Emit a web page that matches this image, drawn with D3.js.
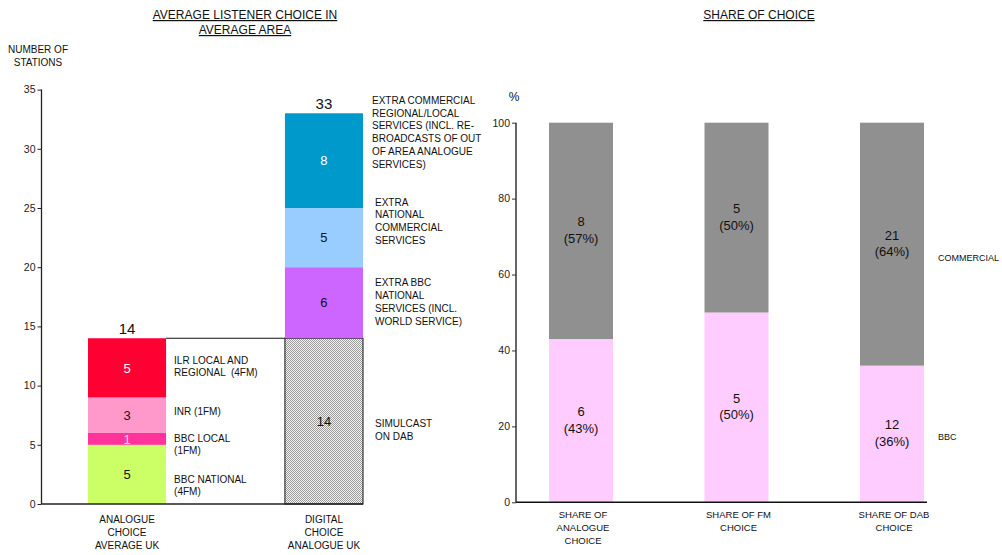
<!DOCTYPE html>
<html><head><meta charset="utf-8">
<script src="https://cdn.jsdelivr.net/npm/d3@7"></script>
<style>
body{margin:0;background:#fff;}
svg{display:block;font-family:"Liberation Sans",Arial,sans-serif;}
text{white-space:pre;}
</style></head>
<body>
<svg id="c" width="1002" height="555"></svg>
<script>
// ---------- DATA ----------
const leftCategories = ["ANALOGUE CHOICE AVERAGE UK", "DIGITAL CHOICE ANALOGUE UK"];
const leftCategoryLines = [["ANALOGUE","CHOICE","AVERAGE UK"],["DIGITAL","CHOICE","ANALOGUE UK"]];
const analogueNames = ["BBC NATIONAL (4FM)", "BBC LOCAL (1FM)", "INR (1FM)", "ILR LOCAL AND REGIONAL (4FM)"];
const analogueValues = [5, 1, 3, 5];
const analogueTotal = 14;
const digitalNames = ["SIMULCAST ON DAB", "EXTRA BBC NATIONAL SERVICES", "EXTRA NATIONAL COMMERCIAL SERVICES", "EXTRA COMMERCIAL REGIONAL/LOCAL SERVICES"];
const digitalValues = [14, 6, 5, 8];
const digitalTotal = 33;
const leftTicks = [0, 5, 10, 15, 20, 25, 30, 35];

const rightCategories = ["SHARE OF ANALOGUE CHOICE", "SHARE OF FM CHOICE", "SHARE OF DAB CHOICE"];
const rightCategoryLines = [["SHARE OF","ANALOGUE","CHOICE"],["SHARE OF FM","CHOICE"],["SHARE OF DAB","CHOICE"]];
const bbcCounts = [6, 5, 12];
const bbcPercent = [43, 50, 36];
const commercialCounts = [8, 5, 21];
const commercialPercent = [57, 50, 64];
const rightTicks = [0, 20, 40, 60, 80, 100];

// ---------- STYLES / LAYOUT ----------
const analogueColors = ["#CCFF66", "#FF3399", "#FF99CC", "#FF0033"];
const analogueTextColors = ["#111", "#ffd6ea", "#111", "#fff"];
const digitalColors = ["url(#hatch)", "#CC66FF", "#99CCFF", "#0099CC"];
const digitalTextColors = ["#111", "#111", "#111", "#fff"];
const bbcColor = "#FFCCFF", commercialColor = "#909090";

const analogueAnnot = [
  {lines:["BBC NATIONAL","(4FM)"], at:1.56},
  {lines:["BBC LOCAL","(1FM)"], at:5.03},
  {lines:["INR (1FM)"], at:7.78},
  {lines:["ILR LOCAL AND","REGIONAL  (4FM)"], at:11.62}
];
const digitalAnnot = [
  {lines:["SIMULCAST","ON DAB"], at:6.28, dx:3},
  {lines:["EXTRA BBC","NATIONAL","SERVICES (INCL.","WORLD SERVICE)"], at:17.07, dx:3},
  {lines:["EXTRA","NATIONAL","COMMERCIAL","SERVICES"], at:23.9, dx:3},
  {lines:["EXTRA COMMERCIAL","REGIONAL/LOCAL","SERVICES (INCL. RE-","BROADCASTS OF OUT","OF AREA ANALOGUE","SERVICES)"], at:31.4, dx:0}
];

const svg = d3.select("#c");
const defs = svg.append("defs");
const pat = defs.append("pattern").attr("id","hatch").attr("patternUnits","userSpaceOnUse")
  .attr("width",2).attr("height",2);
pat.append("rect").attr("width",2).attr("height",2).attr("fill","#f2f2f2").attr("shape-rendering","crispEdges");
pat.append("rect").attr("x",0).attr("y",0).attr("width",1).attr("height",1).attr("fill","#9c9c9c").attr("shape-rendering","crispEdges");
pat.append("rect").attr("x",1).attr("y",1).attr("width",1).attr("height",1).attr("fill","#9c9c9c").attr("shape-rendering","crispEdges");

// ---------- LEFT CHART ----------
const yL = d3.scaleLinear().domain([0,35]).range([504, 89.6]);
const xL = d3.scaleBand().domain(leftCategories).range([88, 363]).paddingInner(0.6035).paddingOuter(0);
const axisX = 41.5;

svg.append("text").attr("x",245).attr("y",19).attr("text-anchor","middle")
  .style("font-size","12px").style("text-decoration","underline").attr("fill","#111")
  .text("AVERAGE LISTENER CHOICE IN");
svg.append("text").attr("x",245).attr("y",34).attr("text-anchor","middle")
  .style("font-size","12px").style("text-decoration","underline").attr("fill","#111")
  .text("AVERAGE AREA");
svg.append("text").attr("x",38).attr("y",53).attr("text-anchor","middle").style("font-size","10px").attr("fill","#111").text("NUMBER OF");
svg.append("text").attr("x",38).attr("y",66).attr("text-anchor","middle").style("font-size","10px").attr("fill","#111").text("STATIONS");

const gL = svg.append("g").attr("transform",`translate(${axisX},0)`)
  .call(d3.axisLeft(yL).tickValues(leftTicks).tickSize(4).tickPadding(2).tickFormat(d3.format("d")));
gL.select(".domain").attr("d",`M0,${yL(35)}V${yL(0)}`).attr("stroke","#222").attr("stroke-width",1.3);
gL.selectAll(".tick line").attr("stroke","#222");
gL.selectAll(".tick text").style("font-size","10.5px").style("font-family","Liberation Sans, Arial, sans-serif").attr("fill","#222");

function stack(vals){ let c=0; return vals.map(v=>{const s={y0:c,y1:c+v,v}; c+=v; return s;}); }
const aStack = stack(analogueValues), dStack = stack(digitalValues);

// white box between bars (top line)
svg.append("line").attr("x1",xL(leftCategories[0])+xL.bandwidth()).attr("x2",xL(leftCategories[1]))
  .attr("y1",yL(analogueTotal)).attr("y2",yL(analogueTotal)).attr("stroke","#111").attr("stroke-width",1.2);

function drawStack(cat, st, colors, tcolors){
  const x0 = xL(cat), w = xL.bandwidth();
  const g = svg.append("g");
  g.selectAll("rect").data(st).join("rect")
    .attr("x",x0).attr("width",w)
    .attr("y",d=>yL(d.y1)).attr("height",d=>yL(d.y0)-yL(d.y1))
    .attr("fill",(d,i)=>colors[i])
    .attr("stroke",(d,i)=>colors[i].startsWith("url")?"#111":"none").attr("stroke-width",1);
  g.selectAll("text").data(st).join("text")
    .attr("x",x0+w/2).attr("y",d=>yL((d.y0+d.y1)/2)).attr("dy","0.36em")
    .attr("text-anchor","middle").style("font-size","13px")
    .attr("fill",(d,i)=>tcolors[i]).text(d=>d.v);
}
drawStack(leftCategories[0], aStack, analogueColors, analogueTextColors);
drawStack(leftCategories[1], dStack, digitalColors, digitalTextColors);

// totals
svg.append("text").attr("x",xL(leftCategories[0])+xL.bandwidth()/2).attr("y",yL(analogueTotal)-4)
  .attr("text-anchor","middle").style("font-size","15px").attr("fill","#111").text(analogueTotal);
svg.append("text").attr("x",xL(leftCategories[1])+xL.bandwidth()/2).attr("y",yL(digitalTotal)-4)
  .attr("text-anchor","middle").style("font-size","15px").attr("fill","#111").text(digitalTotal);

// baseline
svg.append("line").attr("x1",axisX).attr("x2",xL(leftCategories[1])+xL.bandwidth())
  .attr("y1",yL(0)).attr("y2",yL(0)).attr("stroke","#222").attr("stroke-width",1.5);

function annot(list, x){
  list.forEach(a=>{
    const n=a.lines.length, lh=12.7;
    const cy=yL(a.at);
    a.lines.forEach((t,i)=>{
      svg.append("text").attr("x",x+(a.dx||0)).attr("y",cy+(i-(n-1)/2)*lh).attr("dy","0.36em")
        .style("font-size","10px").attr("fill","#111").text(t);
    });
  });
}
annot(analogueAnnot, xL(leftCategories[0])+xL.bandwidth()+8);
annot(digitalAnnot, xL(leftCategories[1])+xL.bandwidth()+9);

leftCategoryLines.forEach((lines,k)=>{
  lines.forEach((t,i)=>{
    svg.append("text").attr("x",xL(leftCategories[k])+xL.bandwidth()/2).attr("y",519.5+i*12.8).attr("dy","0.36em")
      .attr("text-anchor","middle").style("font-size","10px").attr("fill","#111").text(t);
  });
});

// ---------- RIGHT CHART ----------
const yR = d3.scaleLinear().domain([0,100]).range([502.3,122.7]);
const xR = d3.scaleBand().domain(rightCategories).range([549,924]).paddingInner(0.5884).paddingOuter(0);
const axisR = 516;

svg.append("text").attr("x",759).attr("y",19).attr("text-anchor","middle")
  .style("font-size","12px").style("text-decoration","underline").attr("fill","#111").text("SHARE OF CHOICE");
svg.append("text").attr("x",514).attr("y",101).attr("text-anchor","middle").style("font-size","12px").attr("fill","#111").text("%");

const gR = svg.append("g").attr("transform",`translate(${axisR},0)`)
  .call(d3.axisLeft(yR).tickValues(rightTicks).tickSize(4).tickPadding(2).tickFormat(d3.format("d")));
gR.select(".domain").attr("d",`M0,${yR(100)}V${yR(0)}`).attr("stroke","#666").attr("stroke-width",2);
gR.selectAll(".tick line").attr("stroke","#333");
gR.selectAll(".tick text").style("font-size","10.5px").style("font-family","Liberation Sans, Arial, sans-serif").attr("fill","#222");

const rData = rightCategories.map((c,i)=>({c, bbc:bbcPercent[i], com:commercialPercent[i],
  bn:bbcCounts[i], cn:commercialCounts[i]}));
const gb = svg.append("g");
gb.selectAll("rect.bbc").data(rData).join("rect").attr("class","bbc")
  .attr("x",d=>xR(d.c)).attr("width",xR.bandwidth())
  .attr("y",d=>yR(d.bbc)).attr("height",d=>yR(0)-yR(d.bbc)).attr("fill",bbcColor);
gb.selectAll("rect.com").data(rData).join("rect").attr("class","com")
  .attr("x",d=>xR(d.c)).attr("width",xR.bandwidth())
  .attr("y",d=>yR(100)).attr("height",d=>yR(d.bbc)-yR(100)).attr("fill",commercialColor);

function twoLine(x, cy, a, b){
  svg.append("text").attr("x",x).attr("y",cy-6.5).attr("text-anchor","middle").style("font-size","13px").attr("fill","#111").text(a);
  svg.append("text").attr("x",x).attr("y",cy+10).attr("text-anchor","middle").style("font-size","13px").attr("fill","#111").text(b);
}
rData.forEach(d=>{
  const x = xR(d.c)+xR.bandwidth()/2;
  twoLine(x, yR((100+d.bbc)/2)+2, d.cn, `(${d.com}%)`);
  twoLine(x, yR(d.bbc/2)+2, d.bn, `(${d.bbc}%)`);
});

svg.append("line").attr("x1",axisR).attr("x2",927).attr("y1",yR(0)).attr("y2",yR(0)).attr("stroke","#111").attr("stroke-width",1.5);

// legend labels beside last bar
const lastCat = rightCategories[rightCategories.length-1];
const legX = xR(lastCat)+xR.bandwidth()+14;
svg.append("text").attr("x",legX).attr("y",yR(100-commercialPercent[2]/2+ -3.5)).attr("dy","0.36em").style("font-size","9px").attr("fill","#111").text("COMMERCIAL");
svg.append("text").attr("x",legX).attr("y",yR(17.3)).attr("dy","0.36em").style("font-size","9px").attr("fill","#111").text("BBC");

rightCategoryLines.forEach((lines,k)=>{
  lines.forEach((t,i)=>{
    svg.append("text").attr("x",xR(rightCategories[k])+xR.bandwidth()/2+2).attr("y",514.5+i*12.8).attr("dy","0.36em")
      .attr("text-anchor","middle").style("font-size","9.5px").attr("fill","#111").text(t);
  });
});
</script>
</body></html>
